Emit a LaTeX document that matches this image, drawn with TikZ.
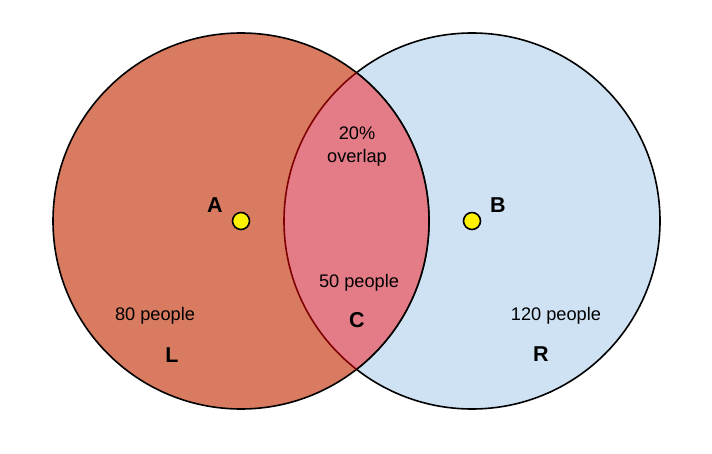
\documentclass[tikz,border=0pt]{standalone}
\usepackage{fontspec}
\setmainfont{Liberation Sans}
\definecolor{leftfill}{HTML}{D87B60}
\definecolor{rightfill}{HTML}{CFE2F3}
\definecolor{lensfill}{HTML}{E47C87}
\definecolor{lensline}{HTML}{7F0000}
\begin{document}
\begin{tikzpicture}[x=1pt,y=-1pt,line width=1.6pt,
    lbl/.style={font=\fontsize{18.2}{20}\selectfont},
    big/.style={font=\fontsize{21.5}{24}\selectfont\bfseries},
    dot/.style={circle,draw,fill=yellow,minimum size=17pt,inner sep=0pt,line width=1.6pt}]
    \useasboundingbox (0,0) rectangle (712,454);
    \coordinate (cl) at (241,221);
    \coordinate (cr) at (472,221);
    % the two sets
    \draw[fill=rightfill](cr)circle(188pt);
    \draw[fill=leftfill](cl)circle(188pt);
    % overlap
    \begin{scope}
        \clip(cl)circle(188pt);
        \fill[lensfill](cr)circle(188pt);
        \draw[lensline](cr)circle(188pt);
    \end{scope}
    \begin{scope}
        \clip(cr)circle(188pt);
        \draw(cl)circle(188pt);
    \end{scope}
    % centres
    \node[dot](dA) at (cl){};
    \node[dot](dB) at (cr){};
    \node[big](A) at (215,205){A};
    \node[big](B) at (498,205){B};
    % labels
    \node[lbl](pct) at (357,133){20\%};
    \node[lbl](ovl) at (357,158){overlap};
    \node[lbl](nC) at (359,283){50 people};
    \node[big](C) at (357,320){C};
    \node[lbl](nL) at (155,316){80 people};
    \node[big](L) at (172,355){L};
    \node[lbl](nR) at (556,316){120 people};
    \node[big](R) at (541,354){R};
\end{tikzpicture}
\end{document}
